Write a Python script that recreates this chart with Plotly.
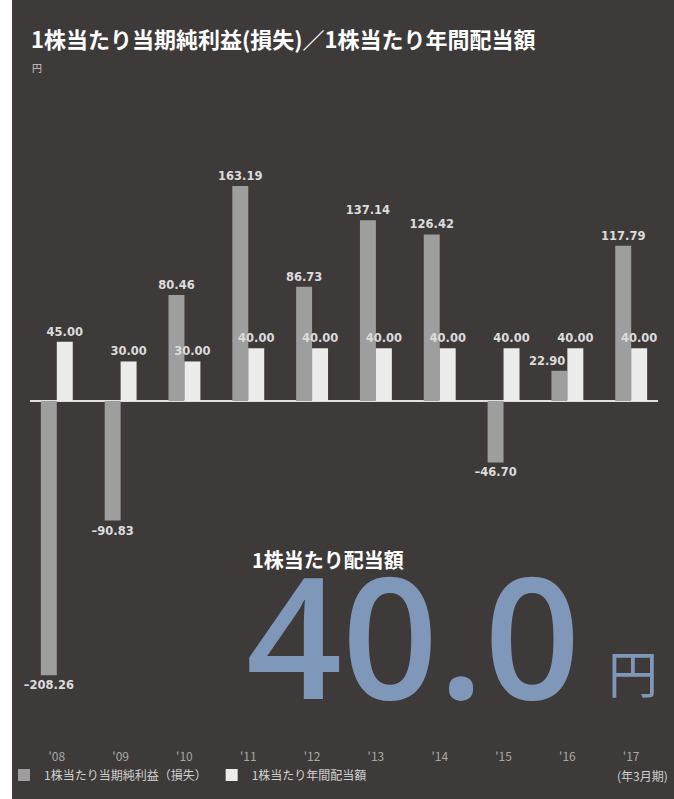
import plotly.graph_objects as go

categories = ["'08", "'09", "'10", "'11", "'12", "'13", "'14", "'15", "'16", "'17"]
eps = [-208.26, -90.83, 80.46, 163.19, 86.73, 137.14, 126.42, -46.70, 22.90, 117.79]
dividend = [45.00, 30.00, 30.00, 40.00, 40.00, 40.00, 40.00, 40.00, 40.00, 40.00]
series_names = ["1株当たり当期純利益（損失）", "1株当たり年間配当額"]
shifted_label = "'16"  # label placed left-aligned to its bar in the original

BG = "#3e3a39"
JP = "Noto Sans CJK JP"
LBL = dict(family="DejaVu Sans", size=11.5, color="#dcdcdc", weight="bold")


def fmt(v):
    return f"{v:.2f}".replace("-", "–")


W, H = 674, 799
ml, mr, mt, mb = 30, 16, 100, 79
pw = W - ml - mr
ph = H - mt - mb

fig = go.Figure()
eps_pos = ["none" if c == shifted_label else "outside" for c in categories]
fig.add_trace(go.Bar(
    x=categories, y=eps, name=series_names[0],
    marker=dict(color="#9d9e9d", line=dict(width=0)),
    text=[fmt(v) for v in eps], textposition=eps_pos,
    constraintext="none", textfont=LBL, cliponaxis=False,
))
fig.add_trace(go.Bar(
    x=categories, y=dividend, name=series_names[1],
    marker=dict(color="#ececec", line=dict(width=0)),
    text=[fmt(v) for v in dividend], textposition="outside",
    constraintext="none", textfont=LBL, cliponaxis=False,
))


def px_x(p):
    return (p - ml) / pw


def px_y(p):
    return 1 - (p - mt) / ph


annotations = [
    dict(text="<b>1株当たり当期純利益(損失)／1株当たり年間配当額</b>", xref="paper", yref="paper",
         x=px_x(29), y=px_y(38), xanchor="left", yanchor="middle", showarrow=False,
         font=dict(family=JP, size=22, color="#ffffff")),
    dict(text="円", xref="paper", yref="paper", x=px_x(30), y=px_y(67),
         xanchor="left", yanchor="middle", showarrow=False,
         font=dict(family=JP, size=10, color="#c8c8c8")),
    dict(text="<b>1株当たり配当額</b>", xref="paper", yref="paper", x=px_x(250), y=px_y(559),
         xanchor="left", yanchor="middle", showarrow=False,
         font=dict(family=JP, size=20, color="#ffffff")),
    dict(text="40.0", xref="paper", yref="paper", x=px_x(244), y=px_y(633),
         xanchor="left", yanchor="middle", showarrow=False,
         font=dict(family="Open Sans", size=168, color="#7f97b8", weight=600)),
    dict(text="円", xref="paper", yref="paper", x=px_x(606), y=px_y(671),
         xanchor="left", yanchor="middle", showarrow=False,
         font=dict(family=JP, size=50, color="#7f97b8")),
    dict(text="(年3月期)", xref="paper", yref="paper", x=px_x(670), y=px_y(775),
         xanchor="right", yanchor="middle", showarrow=False,
         font=dict(family=JP, size=12, color="#d0d0d0")),
]
for c, v in zip(categories, eps):
    if c == shifted_label:
        annotations.append(dict(text=fmt(v), x=c, y=v, xref="x", yref="y",
                                xanchor="right", yanchor="bottom", yshift=1, xshift=0,
                                showarrow=False, font=LBL))

fig.update_layout(
    width=W, height=H,
    margin=dict(l=ml, r=mr, t=mt, b=mb, pad=0, autoexpand=False),
    paper_bgcolor="white", plot_bgcolor=BG,
    barmode="group", bargap=0.5, bargroupgap=0,
    showlegend=True,
    legend=dict(orientation="h", x=px_x(4), y=px_y(775), xanchor="left", yanchor="middle",
                font=dict(family=JP, size=12, color="#d0d0d0"),
                bgcolor="rgba(0,0,0,0)", itemwidth=30, traceorder="normal",
                itemclick=False, tracegroupgap=0),
    xaxis=dict(showgrid=False, showline=False, zeroline=False,
               ticks="outside", ticklen=26, tickcolor="rgba(0,0,0,0)",
               tickfont=dict(family=JP, size=12, color="#a8a8a8"),
               range=[-0.42, 9.42]),
    yaxis=dict(range=[-242.2, 228.5], showgrid=False, showticklabels=False,
               zeroline=True, zerolinecolor="#e0e0e0", zerolinewidth=1.5, showline=False),
    shapes=[
        dict(type="rect", xref="paper", yref="paper", x0=px_x(12), x1=px_x(674),
             y0=px_y(0), y1=px_y(799), fillcolor=BG, line=dict(width=0), layer="below"),
    ],
    annotations=annotations,
)

fig.write_html("out.html")
